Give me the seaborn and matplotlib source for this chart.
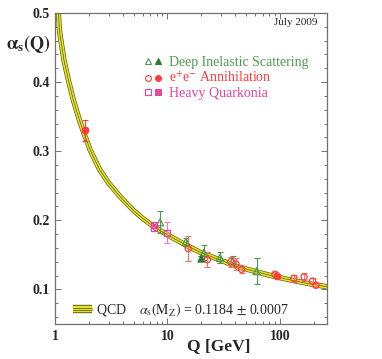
"""Running of alpha_s(Q): world data vs the QCD band (July 2009 summary)."""
import matplotlib
matplotlib.use("Agg")
import matplotlib.pyplot as plt
from matplotlib.lines import Line2D
from matplotlib.legend_handler import HandlerTuple
from matplotlib.ticker import MultipleLocator, FixedLocator, LogLocator, NullFormatter
import seaborn as sns

# QCD band, central value
QCD_Q = [1.07, 1.10, 1.20, 1.31, 1.45, 1.64, 1.80, 2.05, 2.5, 3.0, 3.8, 5.0, 6.0,
         8.0, 10.0, 15.0, 20.0, 30.0, 40.0, 60.0, 91.2, 130.0, 200.0, 260.0]
QCD_AS = [0.500, 0.472, 0.432, 0.404, 0.375, 0.346, 0.327, 0.302, 0.273, 0.254,
          0.234, 0.214, 0.203, 0.188, 0.179, 0.163, 0.153, 0.142, 0.134, 0.126,
          0.1184, 0.113, 0.107, 0.104]

# Deep inelastic scattering
DIS_Q = [8.6, 14.6, 21.1, 29.3, 38.0, 62.0]
DIS_AS = [0.197, 0.169, 0.153, 0.146, 0.141, 0.1265]
DIS_ERR = [0.016, 0.006, 0.011, 0.008, 0.008, 0.019]
DIS_FULL_Q = [19.9]
DIS_FULL_AS = [0.145]
DIS_FULL_ERR = [0.003]

# e+e- annihilation
EE_Q = [15.3, 22.6, 36.5, 40.6, 45.7, 90.3, 133.0, 164.0, 195.0, 209.0]
EE_AS = [0.159, 0.143, 0.140, 0.137, 0.129, 0.122, 0.116, 0.118, 0.112, 0.106]
EE_ERR = [0.018, 0.011, 0.007, 0.009, 0.005, 0.003, 0.005, 0.006, 0.004, 0.003]
EE_FULL_Q = [1.85, 95.0]
EE_FULL_AS = [0.330, 0.1195]
EE_FULL_ERR = [0.015, 0.002]

# Heavy quarkonia
HQ_Q = [7.65, 9.9]
HQ_AS = [0.189, 0.182]
HQ_ERR = [0.004, 0.015]
HQ_FULL_Q = [7.55]
HQ_FULL_AS = [0.193]

GREEN = "#4f9a4f"
DGREEN = "#2f7a2f"
RED = "#ff3c3c"
PINK = "#e8449c"
OLIVE = "#5e5e12"
YELLOW = "#e4e22c"
FRAME = "#707070"

sns.set_theme(style="ticks")
plt.rcParams["font.family"] = ["Liberation Serif", "DejaVu Serif"]
plt.rcParams["mathtext.fontset"] = "stix"

fig = plt.figure(figsize=(3.82, 3.59), dpi=100)
ax = fig.add_axes([0.144, 0.0975, 0.712, 0.8665])

# QCD band: dark edges, yellow fill, thin centre line
for lw, col in [(3.8, OLIVE), (2.8, YELLOW), (0.5, OLIVE)]:
    sns.lineplot(x=QCD_Q, y=QCD_AS, ax=ax, color=col, lw=lw, sort=False,
                 estimator=None, solid_capstyle="butt", zorder=2)


def points(q, a, err, marker, col, filled, s, ecol=None):
    if err is not None:
        ax.errorbar(q, a, yerr=err, fmt="none", ecolor=ecol or col,
                    elinewidth=0.8, capsize=2, capthick=0.8, zorder=3)
    sns.scatterplot(x=q, y=a, ax=ax, marker=marker, s=s, linewidth=0.9,
                    facecolor=col if filled else "none", edgecolor=col, zorder=4)


points(DIS_Q, DIS_AS, DIS_ERR, "^", GREEN, False, 26)
points(DIS_FULL_Q, DIS_FULL_AS, DIS_FULL_ERR, "^", DGREEN, True, 26)
points(EE_Q, EE_AS, EE_ERR, "o", RED, False, 20, "#ff6a6a")
points(EE_FULL_Q, EE_FULL_AS, EE_FULL_ERR, "o", RED, True, 22)
points(HQ_Q, HQ_AS, HQ_ERR, "s", PINK, False, 20, "#f07ac0")
points(HQ_FULL_Q, HQ_FULL_AS, None, "s", PINK, False, 20)
sns.scatterplot(x=HQ_FULL_Q, y=HQ_FULL_AS, ax=ax, marker="x", s=12,
                linewidth=0.8, color=PINK, zorder=5)

ax.set_xscale("log")
ax.set_xlim(1, 262)
ax.set_ylim(0.05, 0.5)
ax.xaxis.set_major_locator(FixedLocator([1, 10, 100]))
ax.xaxis.set_major_formatter(matplotlib.ticker.FixedFormatter(["1", "10", "100"]))
ax.xaxis.set_minor_locator(LogLocator(base=10, subs=range(2, 10)))
ax.xaxis.set_minor_formatter(NullFormatter())
ax.yaxis.set_major_locator(MultipleLocator(0.1))
ax.yaxis.set_minor_locator(MultipleLocator(0.02))
ax.set_yticklabels([f"{v:.1f}" for v in ax.get_yticks()])
ax.set_ylim(0.05, 0.5)

for sp in ax.spines.values():
    sp.set_visible(True)
    sp.set_color(FRAME)
    sp.set_linewidth(0.9)
ax.tick_params(which="both", direction="in", top=True, right=True,
               color=FRAME, width=0.7)
ax.tick_params(which="major", length=4, labelsize=10, pad=4)
ax.tick_params(which="minor", length=2)
for lab in ax.get_xticklabels() + ax.get_yticklabels():
    lab.set_fontweight("bold")

ax.set_xlabel("Q [GeV]", fontsize=12.5, fontweight="bold")
ax.xaxis.set_label_coords(0.6, -0.045)
ax.set_ylabel(r"$\mathbf{\alpha_s(Q)}$", fontsize=13, rotation=0)
ax.yaxis.set_label_coords(-0.099, 0.864)

ax.text(0.966, 0.969, "July 2009", transform=ax.transAxes, ha="right",
        va="center", fontsize=8)

# data legend
mk = dict(ls="none", markersize=4.2, markeredgewidth=0.8)
h_dis = (Line2D([], [], marker="^", mfc="none", mec=GREEN, **mk),
         Line2D([], [], marker="^", mfc=DGREEN, mec=DGREEN, **mk))
h_ee = (Line2D([], [], marker="o", mfc="none", mec=RED, **mk),
        Line2D([], [], marker="o", mfc=RED, mec=RED, **mk))
h_hq = (Line2D([], [], marker="s", mfc="none", mec=PINK, **mk),
        Line2D([], [], marker="$\\boxtimes$", color=PINK, **mk))
leg = ax.legend([h_dis, h_ee, h_hq],
                ["Deep Inelastic Scattering", r"e$^{+}$e$^{-}$ Annihilation", "Heavy Quarkonia"],
                handler_map={tuple: HandlerTuple(ndivide=None, pad=0.3)},
                loc="upper left", bbox_to_anchor=(0.305, 0.883), frameon=False,
                fontsize=10, handlelength=1.2, handletextpad=0.5, labelspacing=0.12,
                borderpad=0, labelcolor=[GREEN, RED, PINK])
ax.add_artist(leg)

# QCD band legend
h_qcd = (Line2D([], [], color=OLIVE, lw=6.0, solid_capstyle="butt"),
         Line2D([], [], color=YELLOW, lw=4.6, solid_capstyle="butt"),
         Line2D([], [], color=OLIVE, lw=2.0, solid_capstyle="butt"),
         Line2D([], [], color=YELLOW, lw=0.9, solid_capstyle="butt"))
ax.legend([h_qcd], [r"QCD    $\alpha_{\rm s}({\rm M_Z})$ = 0.1184 $\pm$ 0.0007"],
          handler_map={tuple: HandlerTuple(ndivide=1)}, loc="lower left",
          bbox_to_anchor=(0.04, -0.006), frameon=False, fontsize=10,
          handlelength=1.4, handletextpad=0.3, borderpad=0)

fig.savefig("out.png", dpi=100)
